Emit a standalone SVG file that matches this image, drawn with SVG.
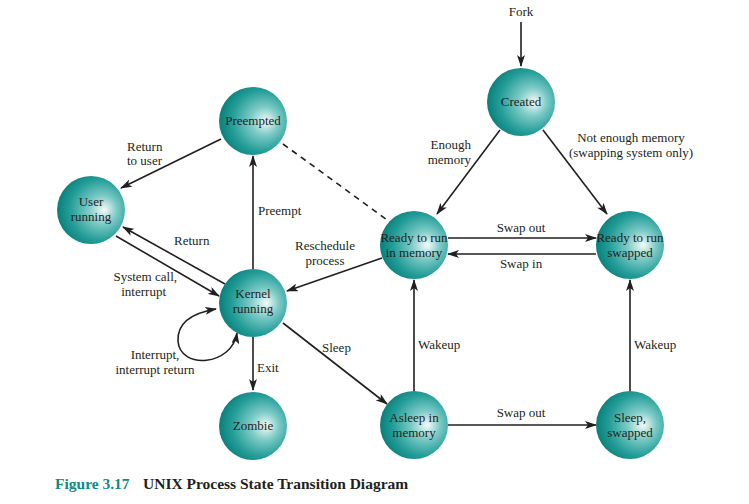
<svg xmlns="http://www.w3.org/2000/svg" width="749" height="504" viewBox="0 0 749 504">
<style>
  .lbl { font-family: "Liberation Serif", "Times New Roman", serif; font-size: 13px; fill: #231f20; }
  .ntx { font-family: "Liberation Serif", "Times New Roman", serif; font-size: 13px; fill: #231f20; text-anchor: middle; }
  .node circle { fill: url(#ball); }
  .edge { stroke: #231f20; stroke-width: 1.6; fill: none; marker-end: url(#arr); }
  .cap { font-family: "Liberation Serif", "Times New Roman", serif; font-size: 15.5px; font-weight: bold; }
</style>
<defs>
  <radialGradient id="ball" cx="0.62" cy="0.5" r="0.6" fx="0.7" fy="0.5">
    <stop offset="0" stop-color="#f4fbfa"/>
    <stop offset="0.35" stop-color="#7ccac6"/>
    <stop offset="0.75" stop-color="#249d98"/>
    <stop offset="1" stop-color="#0b827d"/>
  </radialGradient>
  <marker id="arr" viewBox="0 0 12 8" refX="11" refY="4" markerWidth="12" markerHeight="8" markerUnits="userSpaceOnUse" orient="auto">
    <path d="M0,0 L12,4 L0,8 L3,4 Z" fill="#231f20"/>
  </marker>
  <marker id="arrs" viewBox="0 0 12 8" refX="11" refY="4" markerWidth="12" markerHeight="8" markerUnits="userSpaceOnUse" orient="auto-start-reverse">
    <path d="M0,0 L12,4 L0,8 L3,4 Z" fill="#231f20"/>
  </marker>
</defs>

<!-- transitions -->
<g id="edges">
  <line class="edge" x1="521" y1="22" x2="521" y2="66"/>
  <line class="edge" x1="500" y1="130" x2="437" y2="214"/>
  <line class="edge" x1="543" y1="130" x2="607" y2="214"/>
  <line class="edge" x1="448" y1="238" x2="596" y2="238"/>
  <line class="edge" x1="596" y1="254" x2="448" y2="254"/>
  <line class="edge" x1="382" y1="258" x2="287" y2="291"/>
  <line class="edge" x1="253" y1="269" x2="253" y2="156"/>
  <line x1="283" y1="144" x2="390" y2="222" stroke="#231f20" stroke-width="1.6" stroke-dasharray="6,5"/>
  <line class="edge" x1="221" y1="139" x2="121" y2="188"/>
  <line class="edge" x1="116" y1="236" x2="219" y2="296"/>
  <line class="edge" x1="225" y1="284" x2="123" y2="227"/>
  <path class="edge" d="M237,333 C232,366 180,370 178,341 C177,320 198,312 216,309" marker-start="url(#arrs)"/>
  <line class="edge" x1="253" y1="337" x2="253" y2="390"/>
  <line class="edge" x1="283" y1="323" x2="387" y2="404"/>
  <line class="edge" x1="414" y1="391" x2="414" y2="280"/>
  <line class="edge" x1="448" y1="425" x2="596" y2="425"/>
  <line class="edge" x1="630" y1="391" x2="630" y2="280"/>
</g>

<!-- transition labels -->
<g id="labels">
  <text class="lbl" x="521" y="16" text-anchor="middle">Fork</text>
  <text class="lbl" x="471" y="149" text-anchor="end">Enough</text>
  <text class="lbl" x="471" y="164" text-anchor="end">memory</text>
  <text class="lbl" x="631" y="142" text-anchor="middle">Not enough memory</text>
  <text class="lbl" x="631" y="157" text-anchor="middle">(swapping system only)</text>
  <text class="lbl" x="521" y="232" text-anchor="middle">Swap out</text>
  <text class="lbl" x="521" y="268" text-anchor="middle">Swap in</text>
  <text class="lbl" x="325" y="250" text-anchor="middle" font-size="12px">Reschedule</text>
  <text class="lbl" x="325" y="265" text-anchor="middle" font-size="12px">process</text>
  <text class="lbl" x="258" y="215">Preempt</text>
  <text class="lbl" x="127" y="151">Return</text>
  <text class="lbl" x="127" y="165">to user</text>
  <text class="lbl" x="174" y="245">Return</text>
  <text class="lbl" x="177" y="281" text-anchor="end">System call,</text>
  <text class="lbl" x="166" y="296" text-anchor="end">interrupt</text>
  <text class="lbl" x="155" y="359" text-anchor="middle">Interrupt,</text>
  <text class="lbl" x="155" y="374" text-anchor="middle">interrupt return</text>
  <text class="lbl" x="257" y="372">Exit</text>
  <text class="lbl" x="322" y="352">Sleep</text>
  <text class="lbl" x="418" y="349">Wakeup</text>
  <text class="lbl" x="521" y="417" text-anchor="middle">Swap out</text>
  <text class="lbl" x="634" y="349">Wakeup</text>
</g>

<!-- states -->
<g id="created" class="node"><circle cx="521" cy="102" r="34"/><text class="ntx" x="521" y="106">Created</text></g>
<g id="preempted" class="node"><circle cx="253" cy="121" r="34"/><text class="ntx" x="253" y="125">Preempted</text></g>
<g id="user-running" class="node"><circle cx="91" cy="210" r="34"/><text class="ntx" x="91" y="206">User</text><text class="ntx" x="91" y="221">running</text></g>
<g id="kernel-running" class="node"><circle cx="253" cy="303" r="34"/><text class="ntx" x="253" y="298">Kernel</text><text class="ntx" x="253" y="313">running</text></g>
<g id="zombie" class="node"><circle cx="253" cy="426" r="34"/><text class="ntx" x="253" y="430">Zombie</text></g>
<g id="ready-memory" class="node"><circle cx="414" cy="245" r="34"/><text class="ntx" x="414" y="242" font-size="12.5px">Ready to run</text><text class="ntx" x="414" y="257" font-size="12.5px">in memory</text></g>
<g id="ready-swapped" class="node"><circle cx="630" cy="245" r="34"/><text class="ntx" x="630" y="242" font-size="12.5px">Ready to run</text><text class="ntx" x="630" y="257" font-size="12.5px">swapped</text></g>
<g id="asleep-memory" class="node"><circle cx="414" cy="425" r="34"/><text class="ntx" x="414" y="422">Asleep in</text><text class="ntx" x="414" y="437">memory</text></g>
<g id="sleep-swapped" class="node"><circle cx="630" cy="425" r="34"/><text class="ntx" x="630" y="422">Sleep,</text><text class="ntx" x="630" y="437">swapped</text></g>

<!-- caption -->
<text class="cap" x="55" y="489"><tspan fill="#0f8a86">Figure 3.17</tspan><tspan fill="#231f20" x="143">UNIX Process State Transition Diagram</tspan></text>
</svg>
